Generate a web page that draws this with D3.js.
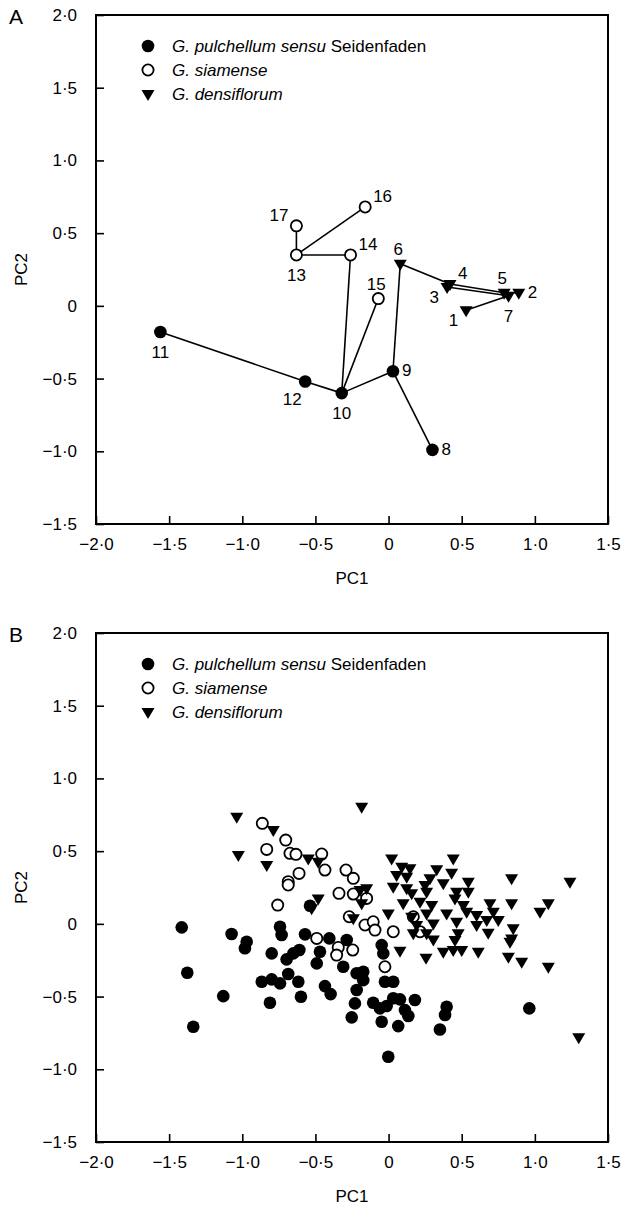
<!DOCTYPE html>
<html>
<head>
<meta charset="utf-8">
<script src="https://cdn.jsdelivr.net/npm/d3@7"></script>
<style>
  body { margin: 0; background: #fff; }
  svg { display: block; font-family: "Liberation Sans", Arial, Helvetica, sans-serif; font-size: 17px; }
</style>
</head>
<body>
<svg id="mainsvg" width="624" height="1222"></svg>
<script>
// tick values
const xTicks = [-2, -1.5, -1, -0.5, 0, 0.5, 1, 1.5];
const yTicks = [-1.5, -1, -0.5, 0, 0.5, 1, 1.5, 2];

const groups = ['G. pulchellum sensu Seidenfaden', 'G. siamense', 'G. densiflorum'];

// panel A: [label, PC1, PC2]
const aPulchellum = [[8, 0.30, -0.99], [9, 0.03, -0.45], [10, -0.32, -0.60], [11, -1.56, -0.18], [12, -0.57, -0.52]];
const aSiamense = [[13, -0.63, 0.35], [14, -0.26, 0.35], [15, -0.07, 0.05], [16, -0.16, 0.68], [17, -0.63, 0.55]];
const aDensiflorum = [[1, 0.53, -0.03], [2, 0.89, 0.09], [3, 0.40, 0.13], [4, 0.42, 0.15], [5, 0.79, 0.09], [6, 0.08, 0.29], [7, 0.82, 0.07]];
const aLinks = [[11, 12], [12, 10], [10, 9], [9, 8], [10, 14], [10, 15], [9, 6], [14, 13], [13, 17], [13, 16], [6, 4], [4, 5], [3, 7], [7, 1], [5, 2]];
// where each number sits around its marker
const aLabelSide = {1: 'leftBelow', 2: 'right', 3: 'leftBelow', 4: 'upRight', 5: 'above', 6: 'above', 7: 'below', 8: 'right', 9: 'right',
  10: 'below', 11: 'below', 12: 'belowLeft', 13: 'below', 14: 'upRight', 15: 'above', 16: 'upRight', 17: 'upLeft'};

// panel B: [PC1, PC2]
const bPulchellum = [
  [-1.414, -0.024], [-1.073, -0.070], [-0.970, -0.123], [-0.982, -0.168], [-0.742, -0.020], [-0.731, -0.077],
  [-0.571, -0.072], [-0.405, -0.100], [-0.286, -0.111], [-0.537, 0.124], [-0.799, -0.203], [-0.697, -0.244],
  [-0.651, -0.203], [-0.610, -0.180], [-0.469, -0.192], [-0.491, -0.272], [-0.310, -0.295], [-0.047, -0.146],
  [-0.036, -0.203], [-1.376, -0.336], [-1.130, -0.497], [-1.335, -0.708], [-0.867, -0.398], [-0.799, -0.382],
  [-0.742, -0.409], [-0.686, -0.345], [-0.617, -0.398], [-0.811, -0.543], [-0.599, -0.501], [-0.435, -0.428],
  [-0.396, -0.483], [-0.218, -0.340], [-0.173, -0.329], [-0.173, -0.387], [-0.025, -0.398], [0.032, -0.398],
  [-0.218, -0.455], [-0.230, -0.547], [-0.105, -0.543], [-0.059, -0.581], [0.032, -0.512], [0.078, -0.519],
  [-0.013, -0.565], [0.180, -0.524], [0.112, -0.593], [0.135, -0.634], [-0.252, -0.643], [-0.047, -0.673],
  [0.066, -0.703], [0.397, -0.570], [0.386, -0.627], [0.351, -0.726], [0.962, -0.581], [-0.002, -0.914]
];
const bSiamense = [
  [-0.863, 0.691], [-0.833, 0.512], [-0.703, 0.576], [-0.674, 0.485], [-0.633, 0.478], [-0.457, 0.480],
  [-0.435, 0.370], [-0.612, 0.347], [-0.686, 0.290], [-0.686, 0.267], [-0.291, 0.370], [-0.241, 0.313],
  [-0.339, 0.210], [-0.241, 0.205], [-0.758, 0.129], [-0.269, 0.049], [-0.491, -0.100], [-0.150, 0.175],
  [-0.161, -0.008], [-0.105, 0.014], [-0.093, -0.043], [0.032, -0.054], [0.169, 0.049], [0.215, -0.054],
  [-0.344, -0.162], [-0.355, -0.215], [-0.245, -0.180], [-0.025, -0.295]
];
const bDensiflorum = [
  [-1.038, 0.737], [-0.788, 0.645], [-1.027, 0.473], [-0.833, 0.404], [-0.549, 0.450], [-0.481, 0.427],
  [-0.481, 0.175], [-0.526, 0.107], [-0.241, 0.038], [-0.184, 0.805], [0.021, 0.450], [0.442, 0.450],
  [0.090, 0.393], [0.146, 0.382], [0.329, 0.375], [0.431, 0.351], [0.055, 0.336], [0.124, 0.324],
  [0.841, 0.313], [1.240, 0.290], [0.545, 0.290], [0.283, 0.313], [0.249, 0.267], [0.374, 0.279],
  [0.032, 0.255], [0.124, 0.244], [-0.150, 0.244], [0.465, 0.221], [0.545, 0.221], [0.158, 0.210],
  [0.260, 0.221], [0.454, 0.175], [0.100, 0.141], [0.215, 0.152], [0.295, 0.129], [0.693, 0.141],
  [0.841, 0.141], [1.092, 0.141], [1.035, 0.083], [0.511, 0.129], [0.534, 0.083], [0.716, 0.083],
  [-0.002, 0.072], [0.158, 0.049], [0.260, 0.072], [0.397, 0.072], [0.602, 0.061], [0.671, 0.026],
  [0.750, 0.026], [0.465, 0.014], [0.306, 0.003], [0.192, -0.008], [-0.184, 0.141], [-0.195, 0.232],
  [0.852, -0.031], [0.681, -0.061], [0.476, -0.065], [0.169, -0.065], [0.260, -0.065], [0.841, -0.100],
  [0.078, -0.185], [0.256, -0.233], [0.306, -0.107], [0.374, -0.192], [0.442, -0.180], [0.500, -0.180],
  [0.454, -0.111], [0.613, -0.192], [0.830, -0.123], [0.819, -0.226], [0.910, -0.261], [1.092, -0.295],
  [0.602, -0.008], [1.300, -0.780]
];

const svg = d3.select('#mainsvg');
const margin = {left: 96, right: 16};
const innerWidth = 624 - margin.left - margin.right;
const innerHeight = 509;

const x = d3.scaleLinear().domain([-2, 1.5]).range([0, innerWidth]);
const y = d3.scaleLinear().domain([-1.5, 2]).range([innerHeight, 0]);

const fmt = d => d === 0 ? '0' : (d < 0 ? '\u2212' : '') + d3.format('.1f')(Math.abs(d)).replace('.', '\u00b7');

const triangle = 'M-6.5,-4L6.5,-4L0,7Z';

function drawMarker(sel, kind) {
  if (kind === 0) {
    sel.append('circle').attr('r', 6.3).attr('fill', '#000');
  } else if (kind === 1) {
    sel.append('circle').attr('r', 5.6).attr('fill', '#fff').attr('stroke', '#000').attr('stroke-width', 1.8);
  } else {
    sel.append('path').attr('d', triangle).attr('fill', '#000');
  }
}

function drawFrame(top, letter) {
  const g = svg.append('g').attr('transform', `translate(${margin.left}, ${top})`);

  const xAxis = d3.axisBottom(x).tickValues(xTicks).tickFormat(fmt).tickSizeInner(-8).tickSizeOuter(0).tickPadding(14);
  const yAxis = d3.axisLeft(y).tickValues(yTicks).tickFormat(fmt).tickSizeInner(-8).tickSizeOuter(0).tickPadding(19);

  const gx = g.append('g').attr('transform', `translate(0, ${innerHeight})`).call(xAxis);
  const gy = g.append('g').call(yAxis);
  [gx, gy].forEach(a => {
    a.attr('font-size', null).attr('font-family', null);
    a.select('.domain').remove();
    a.selectAll('line').attr('stroke', '#000').attr('stroke-width', 1.6);
    a.selectAll('text').attr('fill', '#000');
  });

  g.append('rect')
    .attr('width', innerWidth).attr('height', innerHeight)
    .attr('fill', 'none').attr('stroke', '#000').attr('stroke-width', 2);

  svg.append('text').attr('x', 9).attr('y', top + 9).attr('font-size', 21).text(letter);

  const cy = top + innerHeight / 2;
  svg.append('text')
    .attr('x', 27).attr('y', cy)
    .attr('transform', `rotate(-90, 27, ${cy})`)
    .attr('text-anchor', 'middle').text('PC2');
  svg.append('text')
    .attr('x', margin.left + innerWidth / 2).attr('y', top + innerHeight + 60)
    .attr('text-anchor', 'middle').text('PC1');

  // legend
  const lg = g.append('g').attr('transform', 'translate(52, 31)');
  groups.forEach((name, i) => {
    const row = lg.append('g').attr('transform', `translate(0, ${i * 24})`);
    drawMarker(row, i);
    const t = row.append('text').attr('x', 24).attr('dy', '0.35em').attr('font-style', 'italic');
    if (i === 0) {
      t.append('tspan').text('G. pulchellum sensu ');
      t.append('tspan').attr('font-style', 'normal').text('Seidenfaden');
    } else {
      t.text(name);
    }
  });
  return g;
}

// ---- panel A
const gA = drawFrame(15, 'A');
const aAll = [aPulchellum, aSiamense, aDensiflorum];
const byId = new Map();
aAll.forEach((arr, k) => arr.forEach(d => byId.set(d[0], {id: d[0], pc1: d[1], pc2: d[2], kind: k})));

gA.append('g').selectAll('line')
  .data(aLinks)
  .join('line')
  .attr('x1', d => x(byId.get(d[0]).pc1)).attr('y1', d => y(byId.get(d[0]).pc2))
  .attr('x2', d => x(byId.get(d[1]).pc1)).attr('y2', d => y(byId.get(d[1]).pc2))
  .attr('stroke', '#000').attr('stroke-width', 1.6);

const nodes = Array.from(byId.values());
gA.append('g').selectAll('g')
  .data(nodes)
  .join('g')
  .attr('transform', d => `translate(${x(d.pc1)}, ${y(d.pc2)})`)
  .each(function (d) { drawMarker(d3.select(this), d.kind); });

const sides = {
  below: [0, 20, 'middle'], belowLeft: [-13, 18, 'middle'], right: [9, -1, 'start'],
  upRight: [8, -11, 'start'], upLeft: [-8, -11, 'end'], above: [-2, -15, 'middle'], leftBelow: [-8, 10, 'end']
};
gA.append('g').selectAll('text')
  .data(nodes)
  .join('text')
  .attr('x', d => x(d.pc1) + sides[aLabelSide[d.id]][0])
  .attr('y', d => y(d.pc2) + sides[aLabelSide[d.id]][1])
  .attr('dy', '0.35em')
  .attr('text-anchor', d => sides[aLabelSide[d.id]][2])
  .text(d => d.id);

// ---- panel B
const gB = drawFrame(633, 'B');
[bPulchellum, bSiamense, bDensiflorum].forEach((arr, k) => {
  gB.append('g').selectAll('g')
    .data(arr)
    .join('g')
    .attr('transform', d => `translate(${x(d[0])}, ${y(d[1])})`)
    .each(function () { drawMarker(d3.select(this), k); });
});
</script>
</body>
</html>
